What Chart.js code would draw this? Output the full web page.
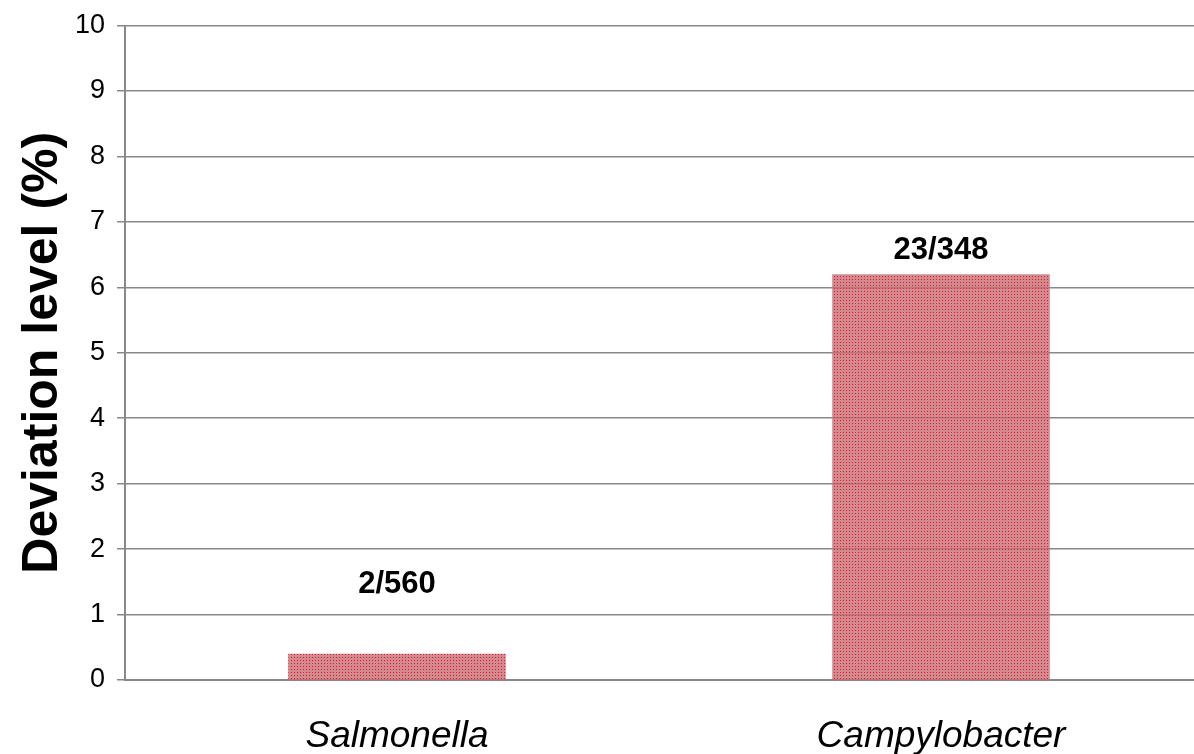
<!DOCTYPE html>
<html><head><meta charset="utf-8">
<script src="https://cdn.jsdelivr.net/npm/chart.js@4"></script>
<style>html,body{margin:0;padding:0;overflow:hidden;background:#fff}#wrap{width:1216px;height:754px;position:relative}</style>
</head><body><div id="wrap"><canvas id="c" width="1216" height="754"></canvas></div>
<script>
const categories = ['Salmonella', 'Campylobacter'];
const deviationLevels = [0.4, 6.2];
const barLabels = ['2/560', '23/348'];
const yTickValues = [0, 1, 2, 3, 4, 5, 6, 7, 8, 9, 10];
const yAxisTitle = 'Deviation level (%)';

function makePattern() {
  const p = document.createElement('canvas');
  p.width = 3; p.height = 3;
  const g = p.getContext('2d');
  g.fillStyle = 'rgba(205,110,116,0.82)';
  g.fillRect(0, 0, 3, 3);
  g.fillStyle = 'rgba(190,30,50,0.9)';
  g.fillRect(0, 0, 1, 1);
  return document.getElementById('c').getContext('2d').createPattern(p, 'repeat');
}

const labelPlugin = {
  id: 'barLabels',
  afterDatasetsDraw(chart, args, opts) {
    const ctx = chart.ctx;
    const meta = chart.getDatasetMeta(0);
    ctx.save();
    ctx.font = opts.font;
    ctx.fillStyle = '#000';
    ctx.textAlign = 'center';
    ctx.textBaseline = 'middle';
    meta.data.forEach((bar, i) => {
      ctx.fillText(barLabels[i], bar.x, bar.y - opts.offsets[i]);
    });
    ctx.restore();
  }
};

new Chart(document.getElementById('c'), {
  type: 'bar',
  data: {
    labels: categories,
    datasets: [{
      data: deviationLevels,
      backgroundColor: makePattern(),
      borderWidth: 0,
      barPercentage: 0.4,
      categoryPercentage: 1.0
    }]
  },
  plugins: [labelPlugin],
  options: {
    responsive: false,
    animation: false,
    layout: { padding: { left: 0, right: 3, top: 24, bottom: 0 } },
    plugins: {
      legend: { display: false },
      tooltip: { enabled: false },
      barLabels: { font: 'bold 31px "Liberation Sans", Arial, sans-serif', offsets: [69, 24] }
    },
    scales: {
      x: {
        afterFit(s) { s.height = 74; },
        grid: { display: false, drawTicks: false },
        border: { display: true, color: '#888', width: 2 },
        ticks: {
          color: '#000',
          padding: 35,
          font: { family: '"Liberation Sans", Arial, sans-serif', size: 37, style: 'italic' }
        }
      },
      y: {
        min: 0, max: 10,
        afterFit(s) { s.width = 125; },
        afterBuildTicks(s) { s.ticks = yTickValues.map(v => ({ value: v })); },
        grid: { color: '#888', lineWidth: 1.5, tickLength: 8 },
        border: { display: true, color: '#888', width: 2 },
        ticks: {
          color: '#000',
          padding: 12,
          font: { family: '"Liberation Sans", Arial, sans-serif', size: 27, lineHeight: 1 }
        },
        title: {
          display: true,
          text: yAxisTitle,
          color: '#000',
          padding: { top: 13, bottom: 0 },
          font: { family: '"Liberation Sans", Arial, sans-serif', size: 50, weight: 'bold' }
        }
      }
    }
  }
});
</script></body></html>
